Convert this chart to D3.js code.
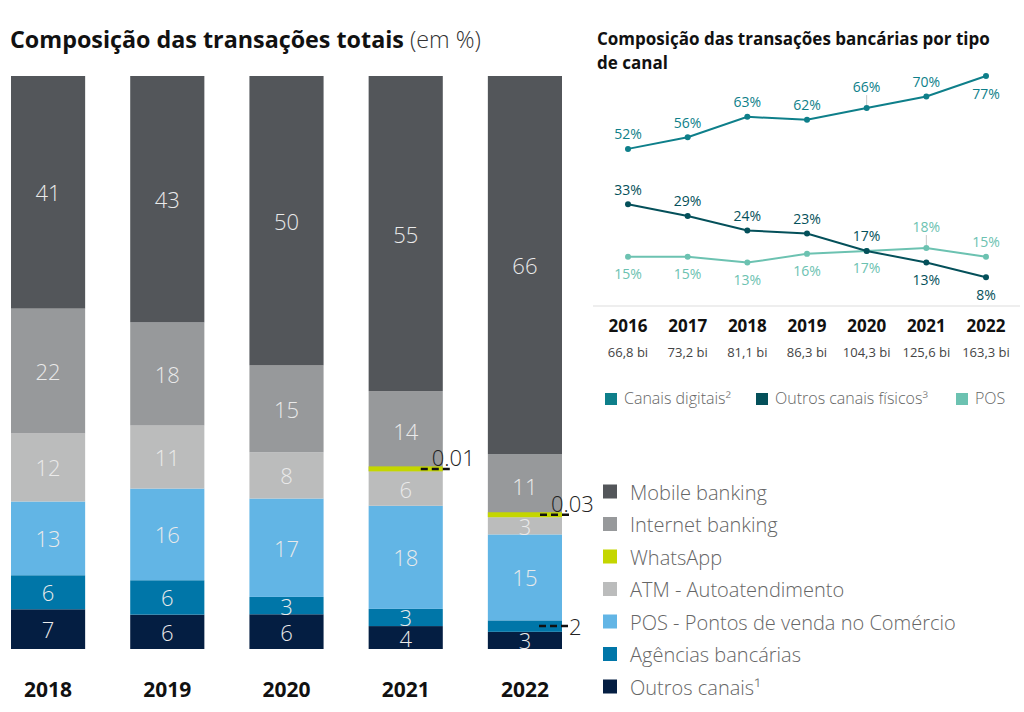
<!DOCTYPE html>
<html>
<head>
<meta charset="utf-8">
<script src="https://cdn.jsdelivr.net/npm/d3@7"></script>
<style>
  html, body { margin: 0; padding: 0; background: #fff; }
  svg { display: block; font-family: "Open Sans", "Noto Sans", sans-serif; }
</style>
</head>
<body>
<svg id="chart" width="1024" height="712"></svg>
<script>
// ---------- Left chart data ----------
const years = ["2018", "2019", "2020", "2021", "2022"];
const mobile   = [41, 43, 50, 55, 66];
const internet = [22, 18, 15, 14, 11];
const whatsapp = [0, 0, 0, 0.01, 0.03];
const atm      = [12, 11, 8, 6, 3];
const pos      = [13, 16, 17, 18, 15];
const agencias = [6, 6, 3, 3, 2];
const outros   = [7, 6, 6, 4, 3];
const seriesNames = ["Mobile banking", "Internet banking", "WhatsApp", "ATM - Autoatendimento",
                     "POS - Pontos de venda no Comércio", "Agências bancárias", "Outros canais¹"];

// ---------- Right chart data ----------
const lineYears = ["2016", "2017", "2018", "2019", "2020", "2021", "2022"];
const totals = ["66,8 bi", "73,2 bi", "81,1 bi", "86,3 bi", "104,3 bi", "125,6 bi", "163,3 bi"];
const canaisDigitais = [52, 56, 63, 62, 66, 70, 77];
const outrosFisicos  = [33, 29, 24, 23, 17, 13, 8];
const posLine        = [15, 15, 13, 16, 17, 18, 15];
const lineNames = ["Canais digitais²", "Outros canais físicos³", "POS"];

// ---------- styles ----------
const barColors = ["#53565a", "#97999b", "#c4d600", "#bbbcbc", "#62b5e5", "#0076a8", "#041e42"];
const lineColors = ["#0e7f8a", "#04505a", "#6cc2b1"];

const svg = d3.select("#chart");

// ===== Left title =====
const t = svg.append("text").attr("x", 10).attr("y", 48)
  .style("font-size", "23.3px").attr("fill", "#111");
t.append("tspan").attr("font-weight", 700).text("Composição das transações totais");
t.append("tspan").attr("font-weight", 300).attr("fill", "#333").text(" (em %)");

// ===== Stacked bars =====
const keys = ["outros", "agencias", "pos", "atm", "whatsapp", "internet", "mobile"];
const valuesByKey = { mobile, internet, whatsapp, atm, pos, agencias, outros };
const colorByKey = {
  mobile: barColors[0], internet: barColors[1], whatsapp: barColors[2], atm: barColors[3],
  pos: barColors[4], agencias: barColors[5], outros: barColors[6]
};
const rows = years.map((y, i) => {
  const r = { year: y };
  keys.forEach(k => r[k] = valuesByKey[k][i]);
  return r;
});
const stack = d3.stack().keys(keys).offset(d3.stackOffsetExpand);
const stacked = stack(rows);

const x = d3.scaleBand().domain(years).range([11, 562]).paddingInner(0.378).paddingOuter(0);
const y = d3.scaleLinear().domain([0, 1]).range([649, 76]);

const gBars = svg.append("g");
const gWhats = svg.append("g");
stacked.forEach(layer => {
  const k = layer.key;
  layer.forEach((d, i) => {
    const yr = years[i];
    let y0 = y(d[0]), y1 = y(d[1]);
    let h = y0 - y1;
    let g = gBars;
    if (k === "whatsapp") {
      if (valuesByKey[k][i] <= 0) return;
      h = 5; y1 = y0 - h; g = gWhats;
    }
    g.append("rect")
      .attr("x", x(yr)).attr("y", y1)
      .attr("width", x.bandwidth()).attr("height", h)
      .attr("fill", colorByKey[k]);
  });
});

const gLab = svg.append("g");
// segment labels
stacked.forEach(layer => {
  const k = layer.key;
  if (k === "whatsapp") return;
  layer.forEach((d, i) => {
    const v = valuesByKey[k][i];
    const yr = years[i];
    const yTop = y(d[1]), yBot = y(d[0]);
    const mid = (yTop + yBot) / 2;
    if (v >= 3) {
      gLab.append("text")
        .attr("x", x(yr) + x.bandwidth() / 2).attr("y", mid)
        .attr("text-anchor", "middle").attr("dominant-baseline", "central")
        .attr("fill", "#eaeaea").attr("font-weight", 300)
        .style("font-size", "22px").text(v);
    } else {
      // external annotation (small segment)
      const xr = x(yr) + x.bandwidth();
      gLab.append("line")
        .attr("x1", xr - 23).attr("x2", xr + 6).attr("y1", mid).attr("y2", mid)
        .attr("stroke", "#111").attr("stroke-width", 2.5).attr("stroke-dasharray", "7,4");
      gLab.append("text")
        .attr("x", xr + 7).attr("y", mid).attr("dominant-baseline", "central")
        .attr("fill", "#222").attr("font-weight", 300)
        .style("font-size", "22px").text(v);
    }
  });
});

// whatsapp annotations
whatsapp.forEach((v, i) => {
  if (v <= 0) return;
  const yr = years[i];
  const base = stacked.find(l => l.key === "whatsapp")[i];
  const yW = y(base[0]) - 2.5;
  const xr = x(yr) + x.bandwidth();
  gLab.append("line")
    .attr("x1", xr - 22).attr("x2", xr + 8).attr("y1", yW).attr("y2", yW)
    .attr("stroke", "#111").attr("stroke-width", 2.5).attr("stroke-dasharray", "7,4");
  gLab.append("text")
    .attr("x", xr - 11).attr("y", yW - 3)
    .attr("fill", "#222").attr("font-weight", 300)
    .style("font-size", "22px").text(d3.format(".2f")(v));
});

// x axis labels (bars)
years.forEach(yr => {
  svg.append("text")
    .attr("x", x(yr) + x.bandwidth() / 2).attr("y", 697)
    .attr("text-anchor", "middle").attr("font-weight", 700)
    .style("font-size", "21px").attr("fill", "#111").text(yr);
});

// legend (bars)
const lg = svg.append("g");
seriesNames.forEach((name, i) => {
  const cy = 492 + i * 32.5;
  lg.append("rect").attr("x", 603).attr("y", cy - 7.5).attr("width", 14).attr("height", 14)
    .attr("fill", barColors[i]);
  lg.append("text").attr("x", 630).attr("y", cy).attr("dominant-baseline", "central")
    .attr("font-weight", 300).attr("fill", "#666")
    .style("font-size", "20px").text(name);
});

// ===== Right chart =====
svg.append("text").attr("x", 597).attr("y", 45).attr("font-weight", 700)
  .style("font-size", "17px").attr("fill", "#111")
  .text("Composição das transações bancárias por tipo");
svg.append("text").attr("x", 597).attr("y", 69).attr("font-weight", 700)
  .style("font-size", "17px").attr("fill", "#111")
  .text("de canal");

const xl = d3.scalePoint().domain(lineYears).range([628, 986]);
const yl = d3.scaleLinear().domain([0, 77]).range([300.5, 76]);

// baseline separator
svg.append("line").attr("x1", 593).attr("x2", 1020).attr("y1", 306).attr("y2", 306)
  .attr("stroke", "#eeeeee").attr("stroke-width", 2);

const seriesLines = [canaisDigitais, outrosFisicos, posLine];
const line = d3.line().x((d, i) => xl(lineYears[i])).y(d => yl(d));

// label placement: "a" above, "b" below
const placement = [
  ["a", "a", "a", "a", "a", "a", "b"],
  ["a", "a", "a", "a", "a", "b", "b"],
  ["b", "b", "b", "b", "b", "a", "a"]
];
const leaders = [
  [0, 0, 0, 0, 1, 0, 0],
  [0, 0, 0, 0, 0, 0, 0],
  [0, 0, 0, 0, 0, 1, 0]
];

// draw lines in order: POS, digital, outros
[2, 0, 1].forEach(s => {
  const data = seriesLines[s];
  svg.append("path").datum(data).attr("d", line)
    .attr("fill", "none").attr("stroke", lineColors[s]).attr("stroke-width", 2);
  data.forEach((v, i) => {
    svg.append("circle").attr("cx", xl(lineYears[i])).attr("cy", yl(v)).attr("r", 3)
      .attr("fill", lineColors[s]);
  });
});

seriesLines.forEach((data, s) => {
  data.forEach((v, i) => {
    const px = xl(lineYears[i]), py = yl(v);
    const above = placement[s][i] === "a";
    let off = above ? -15 : 17;
    if (leaders[s][i]) off = -22;
    if (leaders[s][i]) {
      svg.append("line").attr("x1", px).attr("x2", px)
        .attr("y1", py - 3).attr("y2", py + off + 9)
        .attr("stroke", "#c8c8c8").attr("stroke-width", 1);
    }
    svg.append("text").attr("x", px).attr("y", py + off)
      .attr("text-anchor", "middle").attr("dominant-baseline", "central")
      .attr("fill", lineColors[s]).attr("font-weight", 400)
      .style("font-size", "14px").text(v + "%");
  });
});

// x labels right
lineYears.forEach((yr, i) => {
  svg.append("text").attr("x", xl(yr)).attr("y", 332)
    .attr("text-anchor", "middle").attr("font-weight", 700)
    .style("font-size", "17px").attr("fill", "#111").text(yr);
  svg.append("text").attr("x", xl(yr)).attr("y", 357)
    .attr("text-anchor", "middle").attr("font-weight", 400)
    .style("font-size", "13px").attr("fill", "#444").text(totals[i]);
});

// right legend
const legX = [605, 756, 956];
lineNames.forEach((name, i) => {
  svg.append("rect").attr("x", legX[i]).attr("y", 393).attr("width", 12).attr("height", 12)
    .attr("fill", lineColors[i]);
  svg.append("text").attr("x", legX[i] + 19).attr("y", 404)
    .attr("font-weight", 300).attr("fill", "#666")
    .style("font-size", "16px").text(name);
});
</script>
</body>
</html>
